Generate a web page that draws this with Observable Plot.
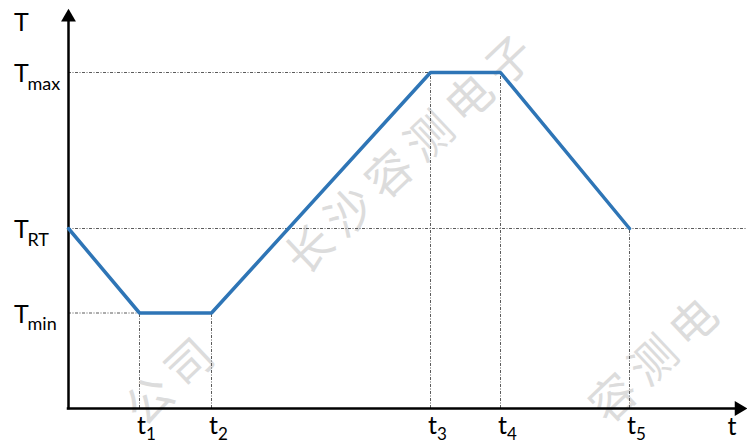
<!DOCTYPE html>
<html>
<head>
<meta charset="utf-8">
<script src="https://cdn.jsdelivr.net/npm/d3@7"></script>
<script src="https://cdn.jsdelivr.net/npm/@observablehq/plot@0.6"></script>
<style>
  html, body { margin: 0; padding: 0; background: white; }
  #chart svg { display: block; }
</style>
</head>
<body>
<div id="chart"></div>
<script>
// ---- data (diagram units) ----
const xMax = 679;            // end of time axis (arrow tip)
const yMax = 398;            // end of temperature axis (arrow tip)
const times = [0, 71, 143, 362, 432, 561];            // origin, t1..t5
const temps = [180, 95.5, 95.5, 336, 336, 180];       // T at each time
const timeSubs = ["1", "2", "3", "4", "5"];
const levelValues = [95.5, 180, 336];                 // Tmin, TRT, Tmax
const levelSubs = ["min", "RT", "max"];
const watermarkText = "长沙容测电子有限公司";

// tables built from the arrays
const profile = times.map((t, i) => ({x: t, y: temps[i]}));
const timeTicks = timeSubs.map((s, i) => ({x: times[i + 1], y: temps[i + 1], sub: s}));
const levels = levelValues.map((v, i) => ({x: 0, y: v, sub: levelSubs[i]}));
const hGuides = [
  {y: levelValues[2], x2: times[3]},
  {y: levelValues[1], x2: xMax},
  {y: levelValues[0], x2: times[1]}
];

const guideStyle = {stroke: "#5a5a5a", strokeWidth: 1, strokeDasharray: "3,1.5,1,1.5"};
const font = "Lato, 'Open Sans', sans-serif";

const chart = Plot.plot({
  width: 747,
  height: 443,
  marginLeft: 68,
  marginRight: 0,
  marginTop: 10,
  marginBottom: 35,
  x: {domain: [0, xMax], axis: null},
  y: {domain: [0, yMax], axis: null},
  style: {fontFamily: font, background: "transparent", overflow: "visible"},
  marks: [
    // guide lines
    Plot.ruleY(hGuides, {y: "y", x1: 0, x2: "x2", ...guideStyle}),
    Plot.ruleX(timeTicks, {x: "x", y1: 0, y2: "y", ...guideStyle}),
    // axes
    Plot.ruleX([0], {y1: 0, y2: yMax - 12, stroke: "black", strokeWidth: 2.5, strokeLinecap: "square"}),
    Plot.ruleY([0], {x1: 0, x2: xMax - 12, stroke: "black", strokeWidth: 2.5, strokeLinecap: "square"}),
    Plot.dot([{x: 0, y: yMax}], {x: "x", y: "y", symbol: "triangle", r: 5.5, fill: "black", stroke: null, dy: 6.8}),
    Plot.dot([{x: xMax, y: 0}], {x: "x", y: "y", symbol: "triangle", r: 5.5, fill: "black", stroke: null, rotate: 90, dx: -8.5}),
    // profile
    Plot.line(profile, {x: "x", y: "y", stroke: "#2E75B6", strokeWidth: 3.5, strokeLinejoin: "miter"}),
    // y labels
    Plot.text(levels, {x: "x", y: "y", text: () => "T", textAnchor: "start", lineAnchor: "bottom", dx: -54.5, dy: 9.5, fontSize: 25, fill: "black"}),
    Plot.text(levels, {x: "x", y: "y", text: "sub", textAnchor: "start", lineAnchor: "bottom", dx: -41, dy: 17, fontSize: 18, fill: "black"}),
    // x labels
    Plot.text(timeTicks, {x: "x", y: () => 0, text: () => "t", textAnchor: "start", lineAnchor: "bottom", dx: -2.5, dy: 25, fontSize: 25, fill: "black"}),
    Plot.text(timeTicks, {x: "x", y: () => 0, text: "sub", textAnchor: "start", lineAnchor: "bottom", dx: 6.5, dy: 31, fontSize: 17, fill: "black"}),
    // axis titles
    Plot.text([{x: 0, y: yMax}], {x: "x", y: "y", text: () => "T", textAnchor: "start", lineAnchor: "bottom", dx: -54.5, dy: 20, fontSize: 25, fill: "black"}),
    Plot.text([{x: xMax, y: 0}], {x: "x", y: "y", text: () => "t", textAnchor: "start", lineAnchor: "bottom", dx: -20, dy: 26, fontSize: 25, fill: "black"})
  ]
});

// faint diagonal watermark behind the drawing (only glyphs that fit inside the picture)
const svg = d3.select(chart);
const wm = svg.insert("g", ":first-child")
  .attr("font-family", "'Noto Sans CJK SC', sans-serif")
  .attr("font-size", 46)
  .attr("fill", "#dcdcdc");
const step = [40, -37.8];
const chars = Array.from(watermarkText);
const pad = 27;
for (let k = -1; k <= 1; k++) {
  for (let j = -1; j <= 1; j++) {
    const px = 307 + k * 224 + j * 12 * step[0];
    const py = 247 + k * 224 + j * 12 * step[1];
    chars.forEach((c, i) => {
      const cx = px + i * step[0], cy = py + i * step[1];
      if (cx < pad || cx > 747 - pad || cy < pad || cy > 443 - pad) return;
      wm.append("text")
        .attr("text-anchor", "middle")
        .attr("dominant-baseline", "central")
        .attr("transform", `translate(${cx},${cy}) rotate(-43.4)`)
        .text(c);
    });
  }
}
svg.insert("rect", ":first-child").attr("width", 747).attr("height", 443).attr("fill", "white");

document.getElementById("chart").append(chart);
</script>
</body>
</html>
